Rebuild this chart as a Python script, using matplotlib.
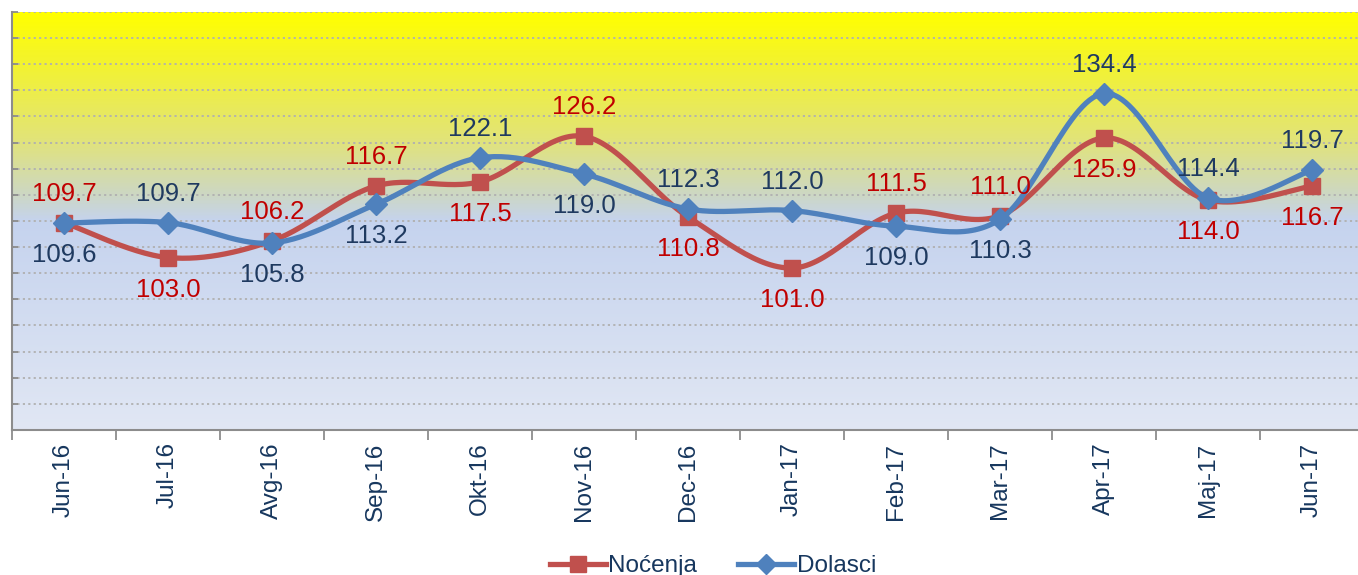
import numpy as np
import matplotlib
matplotlib.use("Agg")
import matplotlib.pyplot as plt
from matplotlib.colors import LinearSegmentedColormap
from matplotlib.lines import Line2D

months = ["Jun-16", "Jul-16", "Avg-16", "Sep-16", "Okt-16", "Nov-16", "Dec-16",
          "Jan-17", "Feb-17", "Mar-17", "Apr-17", "Maj-17", "Jun-17"]
nocenja = [109.7, 103.0, 106.2, 116.7, 117.5, 126.2, 110.8, 101.0, 111.5, 111.0, 125.9, 114.0, 116.7]
dolasci = [109.6, 109.7, 105.8, 113.2, 122.1, 119.0, 112.3, 112.0, 109.0, 110.3, 134.4, 114.4, 119.7]
# label position: 1 = above, -1 = below
noc_pos = [1, -1, 1, 1, -1, 1, -1, -1, 1, 1, -1, -1, -1]
dol_pos = [-1, 1, -1, -1, 1, -1, 1, 1, -1, -1, 1, 1, 1]

RED = "#c0504d"
BLUE = "#4f81bd"
RED_TXT = "#c00000"
BLUE_TXT = "#1f3a60"
TICK_TXT = "#17375e"

plt.rcParams['font.family'] = ['Liberation Sans', 'DejaVu Sans']

def catmull(x, y, n=30):
    x = np.asarray(x, float); y = np.asarray(y, float)
    px = np.concatenate([[x[0]], x, [x[-1]]])
    py = np.concatenate([[y[0]], y, [y[-1]]])
    xs, ys = [], []
    t = np.linspace(0, 1, n)
    for i in range(1, len(px) - 2):
        p0 = np.array([px[i], py[i]])
        p3 = np.array([px[i + 1], py[i + 1]])
        c1 = p0 + (np.array([px[i + 1], py[i + 1]]) - np.array([px[i - 1], py[i - 1]])) / 6
        c2 = p3 - (np.array([px[i + 2], py[i + 2]]) - np.array([px[i], py[i]])) / 6
        b = ((1 - t) ** 3)[:, None] * p0 + (3 * (1 - t) ** 2 * t)[:, None] * c1 + \
            (3 * (1 - t) * t ** 2)[:, None] * c2 + (t ** 3)[:, None] * p3
        xs.append(b[:, 0]); ys.append(b[:, 1])
    return np.concatenate(xs), np.concatenate(ys)

fig = plt.figure(figsize=(13.58, 5.75), dpi=100)
W, H = 1358, 575
ax = fig.add_axes([12 / W, (H - 430) / H, (1364 - 12) / W, (430 - 12) / H])
n = len(months)

# gradient background (row 0 = top)
cmap = LinearSegmentedColormap.from_list("bg", [
    (0.0, "#ffff00"), (0.10, "#f5f527"), (0.30, "#e2e477"),
    (0.44, "#ccd7c6"), (0.50, "#c5d3ee"), (1.0, "#e1e7f4")])
grad = np.linspace(0, 1, 400)[:, None]
ax.imshow(grad, aspect='auto', cmap=cmap, extent=[-0.5, n - 0.5, 70, 150],
          origin='upper', zorder=0, interpolation='bilinear')
ax.set_xlim(-0.5, n - 0.5)
ax.set_ylim(70, 150)

# grid
for yv in np.arange(75, 150.1, 5):
    ax.axhline(yv, color="#b0b0b0", lw=1.3, ls=(0, (1.2, 1.8)), zorder=1)

x = np.arange(n)
sx, sy = catmull(x, nocenja)
ax.plot(sx, sy, color=RED, lw=3.8, zorder=3, solid_capstyle='round')
ax.plot(x, nocenja, ls='none', marker='s', ms=12, color=RED, zorder=4)
sx, sy = catmull(x, dolasci)
ax.plot(sx, sy, color=BLUE, lw=3.8, zorder=5, solid_capstyle='round')
ax.plot(x, dolasci, ls='none', marker='D', ms=11, color=BLUE, zorder=6)

for i in range(n):
    ax.annotate(f"{nocenja[i]:.1f}", (x[i], nocenja[i]), textcoords='offset pixels',
                xytext=(0, 29 if noc_pos[i] > 0 else -32), ha='center', va='center',
                fontsize=18.5, color=RED_TXT, zorder=7)
    ax.annotate(f"{dolasci[i]:.1f}", (x[i], dolasci[i]), textcoords='offset pixels',
                xytext=(0, 29 if dol_pos[i] > 0 else -32), ha='center', va='center',
                fontsize=18.5, color=BLUE_TXT, zorder=7)

# axes styling
for s in ['top', 'right']:
    ax.spines[s].set_visible(False)
for s in ['left', 'bottom']:
    ax.spines[s].set_color("#8c8c8c")
    ax.spines[s].set_linewidth(1.5)
ax.set_yticks(np.arange(70, 150.1, 5))
ax.set_yticklabels([])
ax.tick_params(axis='y', direction='in', length=4, color="#8c8c8c", width=1.3)
ax.set_xticks(x)
ax.set_xticklabels(months, rotation=90, fontsize=17.5, color=TICK_TXT, va='top')
ax.tick_params(axis='x', length=0, pad=9)
ax.set_xticks(np.arange(-0.5, n, 1), minor=True)
ax.tick_params(axis='x', which='minor', direction='out', length=7, color="#8c8c8c", width=1.3)

handles = [Line2D([], [], color=RED, lw=3.8, marker='s', ms=12),
           Line2D([], [], color=BLUE, lw=3.8, marker='D', ms=10)]
fig.legend(handles, ["Noćenja", "Dolasci"], loc='center', bbox_to_anchor=(713 / W, 1 - 566 / H),
           ncol=2, frameon=False, fontsize=17.5, handlelength=2.3, handletextpad=0.1,
           columnspacing=1.7, labelcolor=TICK_TXT)

fig.savefig("out.png", dpi=100)
